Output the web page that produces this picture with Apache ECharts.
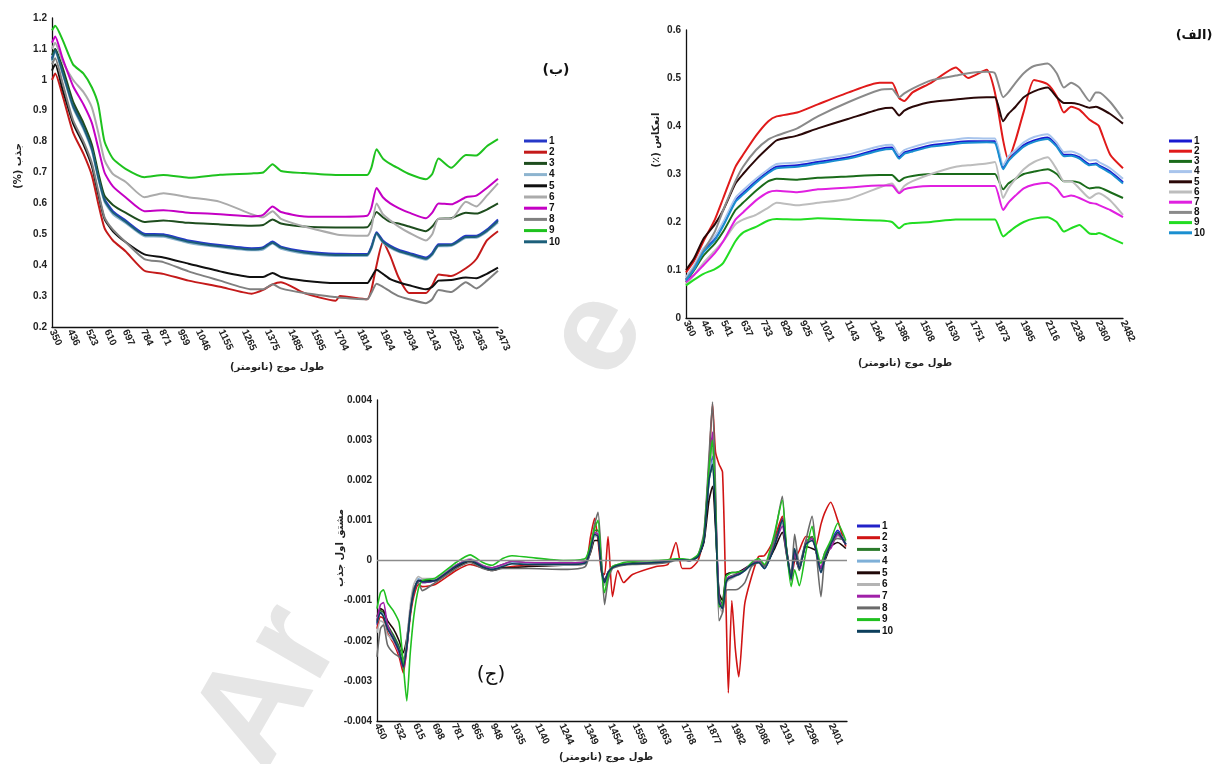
<!DOCTYPE html>
<html>
<head>
<meta charset="utf-8">
<script src="https://cdn.jsdelivr.net/npm/echarts@6/dist/echarts.min.js"></script>
<style>
  html, body { margin: 0; padding: 0; background: #fff; }
  #chart { width: 1214px; height: 764px; }
</style>
</head>
<body>
<div id="chart"></div>
<script>
  // ---- panel (ب) absorbance ----
  const ticksB = [350, 436, 523, 610, 697, 784, 871, 959, 1046, 1155, 1265, 1375, 1485, 1595, 1704, 1814, 1924, 2034, 2143, 2253, 2363, 2473]
  const wlB = [350, 365, 400, 450, 500, 540, 570, 600, 640, 700, 790, 880, 1000, 1150, 1300, 1355, 1400, 1440, 1550, 1700, 1720, 1850, 1870, 1895, 1925, 1960, 2000, 2050, 2130, 2160, 2190, 2250, 2320, 2370, 2420, 2473]
  const b1 = [1.07, 1.10, 1.03, 0.92, 0.85, 0.78, 0.69, 0.615, 0.575, 0.545, 0.502, 0.50, 0.48, 0.465, 0.455, 0.458, 0.477, 0.46, 0.445, 0.437, 0.437, 0.436, 0.46, 0.507, 0.48, 0.463, 0.45, 0.44, 0.425, 0.44, 0.468, 0.468, 0.495, 0.495, 0.515, 0.548]
  const b2 = [1.00, 1.02, 0.95, 0.83, 0.76, 0.69, 0.60, 0.52, 0.48, 0.445, 0.382, 0.372, 0.35, 0.33, 0.308, 0.32, 0.338, 0.345, 0.31, 0.285, 0.30, 0.29, 0.32, 0.40, 0.475, 0.43, 0.36, 0.31, 0.31, 0.335, 0.37, 0.365, 0.39, 0.42, 0.48, 0.51]
  const b3 = [1.08, 1.10, 1.04, 0.93, 0.86, 0.79, 0.70, 0.625, 0.595, 0.57, 0.54, 0.545, 0.537, 0.532, 0.528, 0.530, 0.548, 0.535, 0.525, 0.522, 0.522, 0.523, 0.54, 0.572, 0.555, 0.54, 0.535, 0.525, 0.51, 0.525, 0.55, 0.552, 0.57, 0.567, 0.58, 0.60]
  const b4 = [1.06, 1.09, 1.02, 0.91, 0.84, 0.77, 0.68, 0.605, 0.565, 0.537, 0.494, 0.492, 0.472, 0.458, 0.448, 0.451, 0.47, 0.453, 0.438, 0.43, 0.43, 0.43, 0.453, 0.50, 0.473, 0.456, 0.443, 0.433, 0.418, 0.433, 0.461, 0.462, 0.488, 0.489, 0.508, 0.538]
  const b5 = [1.03, 1.05, 0.97, 0.86, 0.79, 0.72, 0.63, 0.55, 0.51, 0.475, 0.435, 0.425, 0.405, 0.38, 0.362, 0.362, 0.375, 0.362, 0.35, 0.342, 0.342, 0.342, 0.36, 0.385, 0.372, 0.355, 0.345, 0.335, 0.322, 0.33, 0.35, 0.352, 0.36, 0.358, 0.372, 0.392]
  const b6 = [1.10, 1.12, 1.06, 1.00, 0.96, 0.91, 0.83, 0.74, 0.695, 0.67, 0.62, 0.633, 0.62, 0.605, 0.565, 0.555, 0.575, 0.55, 0.525, 0.50, 0.498, 0.495, 0.52, 0.60, 0.565, 0.545, 0.525, 0.505, 0.48, 0.50, 0.55, 0.55, 0.605, 0.59, 0.625, 0.665]
  const b7 = [1.12, 1.14, 1.07, 0.98, 0.92, 0.86, 0.78, 0.70, 0.655, 0.62, 0.575, 0.578, 0.57, 0.565, 0.558, 0.563, 0.59, 0.572, 0.558, 0.557, 0.557, 0.56, 0.585, 0.65, 0.62, 0.60, 0.585, 0.57, 0.552, 0.57, 0.60, 0.597, 0.62, 0.625, 0.65, 0.68]
  const b8 = [1.05, 1.07, 0.99, 0.87, 0.80, 0.73, 0.64, 0.555, 0.515, 0.475, 0.42, 0.41, 0.38, 0.35, 0.322, 0.322, 0.338, 0.325, 0.31, 0.297, 0.295, 0.29, 0.31, 0.34, 0.33, 0.315, 0.30, 0.29, 0.277, 0.29, 0.32, 0.313, 0.345, 0.325, 0.35, 0.382]
  const b9 = [1.16, 1.175, 1.13, 1.05, 1.02, 0.975, 0.92, 0.80, 0.745, 0.712, 0.685, 0.692, 0.683, 0.693, 0.697, 0.700, 0.727, 0.705, 0.698, 0.692, 0.692, 0.692, 0.715, 0.775, 0.745, 0.728, 0.713, 0.695, 0.678, 0.695, 0.745, 0.715, 0.757, 0.755, 0.785, 0.808]
  const b10 = [1.065, 1.095, 1.025, 0.915, 0.845, 0.775, 0.685, 0.61, 0.57, 0.541, 0.498, 0.496, 0.476, 0.461, 0.451, 0.455, 0.473, 0.457, 0.441, 0.433, 0.433, 0.433, 0.456, 0.503, 0.476, 0.459, 0.446, 0.436, 0.421, 0.436, 0.464, 0.465, 0.491, 0.492, 0.511, 0.543]

  // ---- panel (الف) reflectance ----
  const ticksA = [360, 445, 541, 637, 733, 829, 925, 1021, 1143, 1264, 1386, 1508, 1630, 1751, 1873, 1995, 2116, 2238, 2360, 2482]
  const wlA = [360, 400, 445, 500, 541, 600, 637, 700, 760, 800, 900, 1000, 1150, 1300, 1360, 1395, 1420, 1460, 1550, 1670, 1730, 1820, 1860, 1900, 1925, 1960, 2000, 2050, 2116, 2160, 2195, 2230, 2270, 2320, 2350, 2365, 2420, 2482]
  const a1 = [0.08, 0.105, 0.14, 0.165, 0.195, 0.245, 0.26, 0.285, 0.305, 0.315, 0.318, 0.325, 0.335, 0.352, 0.355, 0.335, 0.345, 0.35, 0.36, 0.366, 0.368, 0.368, 0.368, 0.312, 0.33, 0.345, 0.36, 0.37, 0.376, 0.36, 0.34, 0.34, 0.335, 0.32, 0.322, 0.318, 0.305, 0.283]
  const a2 = [0.095, 0.12, 0.16, 0.205, 0.25, 0.315, 0.34, 0.38, 0.41, 0.42, 0.428, 0.445, 0.47, 0.49, 0.49, 0.458, 0.452, 0.47, 0.49, 0.522, 0.50, 0.517, 0.47, 0.37, 0.33, 0.37, 0.43, 0.496, 0.487, 0.462, 0.428, 0.44, 0.434, 0.413, 0.405, 0.40, 0.34, 0.312]
  const a3 = [0.075, 0.10, 0.13, 0.155, 0.18, 0.225, 0.24, 0.265, 0.285, 0.29, 0.288, 0.292, 0.295, 0.298, 0.298, 0.285, 0.292, 0.296, 0.30, 0.30, 0.30, 0.30, 0.30, 0.268, 0.28, 0.29, 0.30, 0.305, 0.31, 0.30, 0.285, 0.285, 0.282, 0.27, 0.272, 0.272, 0.262, 0.25]
  const a4 = [0.085, 0.11, 0.145, 0.17, 0.20, 0.25, 0.266, 0.29, 0.31, 0.321, 0.324, 0.33, 0.341, 0.358, 0.361, 0.34, 0.35, 0.356, 0.366, 0.372, 0.375, 0.374, 0.374, 0.318, 0.336, 0.35, 0.366, 0.377, 0.383, 0.365, 0.346, 0.347, 0.341, 0.328, 0.329, 0.325, 0.312, 0.29]
  const a5 = [0.10, 0.125, 0.165, 0.195, 0.225, 0.28, 0.30, 0.33, 0.355, 0.37, 0.38, 0.395, 0.415, 0.435, 0.438, 0.422, 0.432, 0.44, 0.45, 0.455, 0.458, 0.46, 0.46, 0.41, 0.425, 0.44, 0.46, 0.472, 0.48, 0.46, 0.448, 0.448, 0.445, 0.438, 0.44, 0.438, 0.425, 0.405]
  const a6 = [0.07, 0.09, 0.115, 0.14, 0.16, 0.195, 0.205, 0.215, 0.23, 0.24, 0.235, 0.24, 0.248, 0.272, 0.28, 0.262, 0.275, 0.285, 0.30, 0.315, 0.318, 0.322, 0.325, 0.25, 0.27, 0.29, 0.31, 0.325, 0.335, 0.31, 0.285, 0.285, 0.27, 0.25, 0.258, 0.26, 0.245, 0.215]
  const a7 = [0.075, 0.09, 0.11, 0.135, 0.16, 0.205, 0.22, 0.245, 0.262, 0.265, 0.262, 0.268, 0.272, 0.276, 0.276, 0.26, 0.268, 0.272, 0.275, 0.275, 0.275, 0.275, 0.275, 0.225, 0.24, 0.255, 0.27, 0.278, 0.282, 0.27, 0.252, 0.255, 0.25, 0.24, 0.238, 0.235, 0.225, 0.21]
  const a8 = [0.08, 0.105, 0.14, 0.18, 0.225, 0.285, 0.315, 0.35, 0.372, 0.38, 0.395, 0.42, 0.45, 0.475, 0.477, 0.46, 0.468, 0.478, 0.495, 0.505, 0.51, 0.513, 0.51, 0.46, 0.47, 0.49, 0.51, 0.525, 0.53, 0.51, 0.48, 0.49, 0.48, 0.452, 0.47, 0.47, 0.45, 0.415]
  const a9 = [0.068, 0.08, 0.092, 0.102, 0.115, 0.16, 0.178, 0.19, 0.203, 0.206, 0.205, 0.208, 0.205, 0.203, 0.20, 0.187, 0.195, 0.198, 0.20, 0.205, 0.205, 0.205, 0.205, 0.17, 0.178, 0.19, 0.20, 0.207, 0.21, 0.20, 0.18, 0.187, 0.194, 0.176, 0.175, 0.177, 0.167, 0.155]
  const a10 = [0.078, 0.102, 0.137, 0.162, 0.192, 0.242, 0.257, 0.282, 0.302, 0.312, 0.315, 0.322, 0.332, 0.349, 0.352, 0.332, 0.342, 0.347, 0.357, 0.363, 0.365, 0.366, 0.365, 0.31, 0.327, 0.342, 0.357, 0.367, 0.373, 0.357, 0.337, 0.338, 0.332, 0.318, 0.32, 0.316, 0.302, 0.28]

  // ---- panel (ج) first derivative ----
  const ticksC = [450, 532, 615, 698, 781, 865, 948, 1035, 1140, 1244, 1349, 1454, 1559, 1663, 1768, 1877, 1982, 2086, 2191, 2296, 2401]
  const wlC = [450, 465, 478, 495, 520, 545, 563, 578, 593, 608,
    628, 645, 700, 790, 850, 905, 945, 990, 1030, 1100,
    1250, 1345, 1368, 1385, 1400, 1415, 1428, 1443, 1462, 1485,
    1510, 1548, 1650, 1700, 1735, 1762, 1795, 1830, 1855, 1877,
    1892, 1905, 1920, 1935, 1950, 1960, 1975, 1990, 2005, 2030,
    2060, 2090, 2115, 2155, 2192, 2210, 2230, 2245, 2265, 2293,
    2320, 2335, 2358, 2375, 2400, 2430, 2465]
  const c1 = [-0.0016, -0.0013, -0.00135, -0.00165, -0.0019, -0.0022, -0.0026, -0.0021, -0.0013, -0.0008,
    -0.0005, -0.00055, -0.0005, -0.00015, 0, -0.00015, -0.0002, -0.00012, -0.00005, -0.00008,
    -0.00008, -0.00005, 0.0003, 0.0007, 0.00065, -0.0002, -0.00055, -0.0003, -0.00018, -0.00012,
    -0.0001, -0.00008, -0.00005, -0.00002, 0.00002, 0.00002, 0, 0.0001, 0.0005, 0.002,
    0.0026, 0.0012, -0.001, -0.0012, -0.00055, -0.00045, -0.0004, -0.00038, -0.00035, -0.00025,
    -0.0001, -0.00005, -0.0002, 0.00035, 0.00105, 0.0003, -0.00045, 0.00025, -0.0002, 0.00045,
    0.00055, 0.0003, -0.0003, 0.00005, 0.00045, 0.00075, 0.0004]
  const c2 = [-0.0017, -0.0014, -0.00145, -0.0018, -0.00205, -0.0024, -0.0028, -0.0022, -0.0014, -0.0009,
    -0.0006, -0.00065, -0.0006, -0.00025, -0.0001, -0.00018, -0.00022, -0.00018, -0.00015, -0.00012,
    -0.0001, -0.00005, 0.0006, 0.00105, 0.0005, -0.0003, -0.00035, 0.0006, -0.0009, -0.00025,
    -0.00055, -0.00035, -0.00015, -0.0001, 0.00045, -0.0002, -0.0002, 0, 0.0006, 0.0024,
    0.0039, 0.0027, 0.0024, 0.0022, -0.0011, -0.0033, -0.001, -0.0022, -0.0029, -0.0011,
    -0.0004, 0.0001, 0.00012, 0.0005, 0.0011, 0.0003, -0.00045, 0, 0.00025, 0.0006,
    0.00055, 0.00035, 0.0009, 0.0012, 0.00145, 0.001, 0.00035]
  const c3 = [-0.0015, -0.00125, -0.0013, -0.0016, -0.00185, -0.00215, -0.0025, -0.0021, -0.0013, -0.0008,
    -0.0005, -0.00052, -0.00048, -0.00012, 0.00003, -0.00013, -0.00018, -0.0001, -0.00003, -0.00006,
    -0.00006, -0.00003, 0.00035, 0.00075, 0.00075, -0.0001, -0.0006, -0.0003, -0.00015, -0.0001,
    -0.00008, -0.00006, -0.00004, -0.00001, 0.00003, 0.00003, 0.00001, 0.0001, 0.00055, 0.0021,
    0.0023, 0.001, -0.0009, -0.0011, -0.0005, -0.00042, -0.00038, -0.00035, -0.0003, -0.00022,
    -0.00008, 0, -0.00015, 0.0004, 0.00095, 0.00025, -0.00045, 0.00015, -0.00025, 0.00045,
    0.0006, 0.00035, -0.00025, 0.0001, 0.00045, 0.00065, 0.0004]
  const c4 = [-0.00155, -0.0013, -0.00135, -0.0017, -0.00195, -0.00225, -0.0026, -0.00215, -0.00125, -0.00075,
    -0.00045, -0.0005, -0.00047, -0.00012, 0.00002, -0.00014, -0.00019, -0.00012, -0.00006, -0.00008,
    -0.0001, -0.00006, 0.0003, 0.00065, 0.0007, -0.00015, -0.0006, -0.00032, -0.00017, -0.00012,
    -0.0001, -0.00008, -0.00005, -0.00002, 0.00002, 0.00002, 0, 0.0001, 0.0005, 0.002,
    0.0025, 0.0011, -0.001, -0.00115, -0.0005, -0.00042, -0.0004, -0.00037, -0.00033, -0.00024,
    -0.0001, -0.00003, -0.0002, 0.0003, 0.00095, 0.0002, -0.0005, 0.0002, -0.0002, 0.00045,
    0.0005, 0.0003, -0.00025, 0.00005, 0.0004, 0.0007, 0.00045]
  const c5 = [-0.0014, -0.0012, -0.00125, -0.0015, -0.0017, -0.002, -0.0023, -0.00195, -0.00125, -0.00075,
    -0.0005, -0.0005, -0.0005, -0.00018, -0.00002, -0.00018, -0.00025, -0.00018, -0.00018, -0.00015,
    -0.00012, -0.00008, 0.0002, 0.0005, 0.0005, -0.0002, -0.0005, -0.0003, -0.00018, -0.00012,
    -0.0001, -0.00008, -0.00005, -0.00002, 0.00002, 0.00002, 0, 0.0001, 0.00045, 0.0015,
    0.00185, 0.0008, -0.0008, -0.001, -0.00035, -0.00032, -0.0003, -0.0003, -0.00028, -0.0002,
    -0.0001, 0, -0.00015, 0.00025, 0.0007, 0.00015, -0.0004, 0.0001, -0.0002, 0.00035,
    0.0003, 0.00025, -0.0002, 0, 0.00035, 0.00045, 0.0003]
  const c6 = [-0.0018, -0.0015, -0.00155, -0.00185, -0.002, -0.0023, -0.0025, -0.002, -0.0011, -0.0006,
    -0.0004, -0.00045, -0.00045, -0.00012, 0.00005, -0.00012, -0.0002, -0.00012, -0.00008, -0.0001,
    -0.00012, -0.00008, 0.00025, 0.0006, 0.0006, -0.0002, -0.0006, -0.0003, -0.00015, -0.00012,
    -0.0001, -0.00008, -0.00005, -0.00002, 0.00002, 0.00002, 0, 0.00012, 0.00055, 0.0022,
    0.0028, 0.0013, -0.0011, -0.0013, -0.0006, -0.0005, -0.00045, -0.0004, -0.00035, -0.00025,
    -0.0001, -0.00005, -0.00018, 0.00035, 0.0009, 0.0002, -0.00045, 0.0002, -0.0002, 0.00045,
    0.0005, 0.0003, -0.0003, 0.00005, 0.0004, 0.0006, 0.00045]
  const c7 = [-0.0015, -0.0011, -0.00105, -0.0016, -0.00195, -0.0023, -0.0027, -0.0022, -0.0013, -0.0008,
    -0.0005, -0.00055, -0.0005, -0.00012, 0.00002, -0.00013, -0.00018, -0.0001, -0.00002, -0.00005,
    -0.00006, -0.00004, 0.0003, 0.0007, 0.00065, -0.0002, -0.00055, -0.0003, -0.00017, -0.00012,
    -0.0001, -0.00008, -0.00005, -0.00002, 0.00002, 0.00002, 0, 0.00012, 0.00055, 0.0023,
    0.0032, 0.0015, -0.001, -0.00115, -0.0005, -0.00042, -0.0004, -0.00036, -0.00032, -0.00022,
    -0.00008, 0, -0.00015, 0.00035, 0.00085, 0.0002, -0.0005, 0.0002, -0.0002, 0.00045,
    0.00055, 0.0003, -0.0002, 0.0002, 0.0003, 0.00065, 0.0004]
  const c8 = [-0.0024, -0.0017, -0.0016, -0.0021, -0.0023, -0.0024, -0.00245, -0.0021, -0.0013, -0.0007,
    -0.00055, -0.00075, -0.00055, -0.0002, -0.00005, -0.0002, -0.00025, -0.0002, -0.0002, -0.0002,
    -0.00022, -0.00015, 0.0003, 0.0009, 0.0012, 0, -0.0011, -0.0005, -0.0002, -0.00015,
    -0.00012, -0.0001, -0.00008, -0.00005, 0, 0, 0, 0.00015, 0.0007, 0.0026,
    0.00395, 0.0018, -0.0015, -0.0013, -0.00075, -0.00073, -0.00073, -0.00073, -0.0007, -0.00056,
    -0.00015, -0.00005, -0.00015, 0.0005, 0.0016, 0.0002, -0.00035, 0.00065, -0.0001, 0.0005,
    0.0011, 0.0004, -0.0009, 0.0001, 0.00045, 0.00055, 0.0005]
  const c9 = [-0.0012, -0.0008, -0.00073, -0.00105, -0.00125, -0.00155, -0.0026, -0.0035, -0.0023, -0.0014,
    -0.0007, -0.0005, -0.00044, -0.00005, 0.00014, -0.00005, -0.00012, 0.00005, 0.00012, 0.00008,
    0, 0.00005, 0.0004, 0.0008, 0.001, -0.0002, -0.0008, -0.0004, -0.00015, -0.0001,
    -0.00005, -0.00002, 0, 0.00002, 0.00004, 0.00004, 0.00002, 0.00015, 0.0006, 0.0023,
    0.003, 0.0013, -0.00115, -0.0011, -0.0004, -0.00035, -0.0003, -0.0003, -0.00028, -0.00025,
    -0.00005, 0.00005, -0.0001, 0.0006, 0.0015, 0.0003, -0.00065, -0.00023, -0.00063, 0.0002,
    0.00085, 0.0004, -0.00007, 0.0002, 0.0005, 0.00093, 0.0005]
  const c10 = [-0.00155, -0.0013, -0.0014, -0.0017, -0.00195, -0.00225, -0.00265, -0.00215, -0.0013, -0.00078,
    -0.0005, -0.00053, -0.0005, -0.00014, 0, -0.00016, -0.00022, -0.00015, -0.00008, -0.0001,
    -0.0001, -0.00006, 0.00028, 0.00065, 0.0006, -0.00025, -0.00055, -0.0003, -0.00018, -0.00012,
    -0.0001, -0.00008, -0.00005, -0.00002, 0.00002, 0.00002, 0, 0.0001, 0.0005, 0.002,
    0.0024, 0.001, -0.00105, -0.0012, -0.00055, -0.00045, -0.00042, -0.00038, -0.00035, -0.00025,
    -0.0001, -0.00005, -0.0002, 0.0003, 0.001, 0.00025, -0.00045, 0.0003, -0.0002, 0.0004,
    0.0005, 0.0003, -0.0003, 0.00005, 0.0004, 0.0007, 0.0004]

  const colorsB = ['#2638c8', '#c41a1a', '#1e4d1e', '#8db4cf', '#101010', '#ababab', '#c400c4', '#808080', '#1ec21e', '#1c5f7a']
  const colorsA = ['#1a1ad0', '#e01a1a', '#1a6b1a', '#a8c4ec', '#2a0808', '#bdbdbd', '#e020e0', '#8a8a8a', '#22dd22', '#1a8fd0']
  const colorsC = ['#2222c8', '#d01414', '#2a7a2a', '#7fb0d8', '#200808', '#b4b4b4', '#a020a8', '#6a6a6a', '#20c020', '#0d3f5c']

  const rtl = s => '\u202B' + s + '\u202C'
  const numFont = 'Liberation Sans'
  const arFont = 'DejaVu Sans'

  function makeSeries(prefix, wl, rows, colors, axis, width) {
    return rows.map((ys, i) => ({
      name: prefix + (i + 1),
      type: 'line',
      xAxisIndex: axis,
      yAxisIndex: axis,
      data: wl.map((w, j) => [w, ys[j]]),
      symbol: 'none',
      smooth: 0.2,
      lineStyle: { color: colors[i], width: width },
      itemStyle: { color: colors[i] },
      z: 3
    }))
  }

  function xAxisFor(grid, min, max, ticks) {
    return {
      type: 'value', gridIndex: grid, min: min, max: max,
      axisLine: { onZero: false, lineStyle: { color: '#111', width: 1.3 } },
      axisTick: { show: false },
      splitLine: { show: false },
      axisLabel: {
        customValues: ticks, rotate: -65, margin: 3,
        fontSize: 10, fontWeight: 'bold', fontFamily: numFont, color: '#222',
        formatter: v => String(v)
      }
    }
  }

  function yAxisFor(grid, min, max, step, digits) {
    return {
      type: 'value', gridIndex: grid, min: min, max: max, interval: step,
      axisLine: { show: true, lineStyle: { color: '#111', width: 1.3 } },
      axisTick: { show: false },
      splitLine: { show: false },
      axisLabel: {
        margin: 5, fontSize: 10, fontWeight: 'bold', fontFamily: numFont, color: '#222',
        formatter: v => String(+v.toFixed(digits))
      }
    }
  }

  function legendFor(prefix, left, top, gap) {
    const data = []
    for (let i = 1; i <= 10; i++) data.push(prefix + i)
    return {
      data: data, orient: 'vertical', left: left, top: top,
      icon: 'rect', itemWidth: 23, itemHeight: 3, itemGap: gap, padding: 0,
      formatter: n => n.slice(1),
      textStyle: { fontSize: 10, lineHeight: 10, fontWeight: 'bold', fontFamily: numFont, color: '#111', padding: [0, 0, 0, -3] }
    }
  }

  function label(x, y, text, font, rot, fill) {
    return {
      type: 'text', x: x, y: y, rotation: rot || 0, z: 10,
      style: { text: text, font: font, fill: fill || '#222', align: 'center', verticalAlign: 'middle' }
    }
  }

  const seriesB = makeSeries('b', wlB, [b1, b2, b3, b4, b5, b6, b7, b8, b9, b10], colorsB, 0, 2)
  const seriesA = makeSeries('a', wlA, [a1, a2, a3, a4, a5, a6, a7, a8, a9, a10], colorsA, 1, 2)
  const seriesC = makeSeries('c', wlC, [c1, c2, c3, c4, c5, c6, c7, c8, c9, c10], colorsC, 2, 1.6)
  seriesC[0].markLine = {
    silent: true, symbol: 'none', label: { show: false },
    lineStyle: { color: '#8c8c8c', width: 1.3, type: 'solid' },
    data: [{ yAxis: 0 }]
  }

  const chart = echarts.init(document.getElementById('chart'))
  chart.setOption({
    animation: false,
    backgroundColor: '#fff',
    grid: [
      { left: 52, top: 18, width: 446, height: 309, outerBoundsMode: 'none' },
      { left: 686, top: 30, width: 437, height: 288, outerBoundsMode: 'none' },
      { left: 377, top: 400, width: 470, height: 321, outerBoundsMode: 'none' }
    ],
    xAxis: [
      xAxisFor(0, 350, 2473, ticksB),
      xAxisFor(1, 360, 2482, ticksA),
      xAxisFor(2, 450, 2470, ticksC)
    ],
    yAxis: [
      yAxisFor(0, 0.2, 1.2, 0.1, 1),
      yAxisFor(1, 0, 0.6, 0.1, 1),
      yAxisFor(2, -0.004, 0.004, 0.001, 3)
    ],
    legend: [
      legendFor('b', 524, 136, 1.2),
      legendFor('a', 1169, 136, 0.2),
      legendFor('c', 857, 521, 1.7)
    ],
    graphic: [
      // faint watermark letters behind the plots
      { type: 'text', x: 292, y: 790, rotation: 60 * Math.PI / 180, z: -1,
        style: { text: 'Ar', font: 'bold 140px Liberation Sans', fill: '#e6e6e6', align: 'left', verticalAlign: 'bottom' } },
      { type: 'text', x: 598, y: 335, rotation: 60 * Math.PI / 180, z: -1,
        style: { text: 'e', font: 'bold 130px Liberation Sans', fill: '#e6e6e6', align: 'center', verticalAlign: 'middle' } },
      // axis titles
      label(18, 166, rtl('جذب (%)'), 'bold 10px ' + arFont, Math.PI / 2),
      label(277, 367, rtl('طول موج (نانومتر)'), 'bold 10px ' + arFont),
      label(656, 140, rtl('انعکاس (٪)'), 'bold 10px ' + arFont, Math.PI / 2),
      label(905, 363, rtl('طول موج (نانومتر)'), 'bold 10px ' + arFont),
      label(340, 548, rtl('مشتق اول جذب'), 'bold 10px ' + arFont, Math.PI / 2),
      label(606, 757, rtl('طول موج (نانومتر)'), 'bold 10px ' + arFont),
      // panel letters
      label(556, 70, rtl('(ب)'), 'bold 14px ' + arFont, 0, '#111'),
      label(1194, 36, rtl('(الف)'), 'bold 13px ' + arFont, 0, '#111'),
      label(491, 675, rtl('(ج)'), '20px ' + arFont, 0, '#111')
    ],
    series: seriesB.concat(seriesA, seriesC)
  })
</script>
</body>
</html>
